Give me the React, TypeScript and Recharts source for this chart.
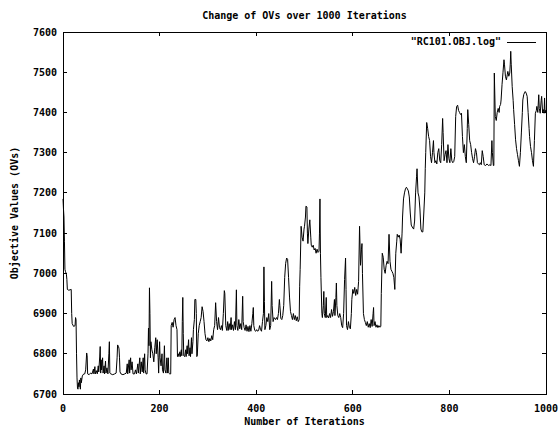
import { LineChart, Line, XAxis, YAxis, ReferenceArea } from "recharts";

const xTicks = [0, 200, 400, 600, 800, 1000];
const yTicks = [6700, 6800, 6900, 7000, 7100, 7200, 7300, 7400, 7500, 7600];

// [iteration, objective value], phase by phase
const descent = [
  [0, 7185], [1, 7160], [2, 7140], [3, 7080], [4, 7010], [5, 7005], [7, 6998], [8, 6985],
  [9, 6960], [12, 6958], [17, 6960], [18, 6900], [19, 6875], [22, 6868], [25, 6870], [26, 6890],
  [27, 6885], [28, 6800], [29, 6740], [30, 6715], [31, 6712], [32, 6728], [33, 6718], [34, 6735],
  [35, 6722], [36, 6712], [37, 6740], [38, 6728], [40, 6745], [43, 6750],
];

const plateau6750 = [
  [45, 6750], [47, 6760], [49, 6802], [50, 6795], [51, 6750], [54, 6748], [57, 6752], [60, 6750],
  [63, 6762], [64, 6750], [66, 6768], [67, 6750], [69, 6758], [71, 6750], [73, 6770], [74, 6755],
  [76, 6792], [77, 6818], [78, 6752], [79, 6785], [80, 6760], [82, 6790], [83, 6752], [85, 6770],
  [86, 6750], [88, 6782], [89, 6752], [91, 6765], [93, 6750], [95, 6800], [96, 6830], [97, 6752],
  [99, 6750], [103, 6748], [107, 6750], [110, 6752], [112, 6790], [113, 6822], [115, 6818],
  [116, 6812], [117, 6790], [118, 6755], [120, 6750], [124, 6748], [128, 6750], [131, 6752],
  [133, 6775], [134, 6750], [137, 6785], [138, 6752], [140, 6790], [141, 6760], [143, 6780],
  [145, 6750], [148, 6750], [150, 6760], [152, 6750], [155, 6775], [156, 6752], [159, 6790],
  [160, 6750], [162, 6780], [164, 6755], [166, 6790], [167, 6752], [169, 6800], [170, 6760],
  [172, 6750], [174, 6750], [176, 6800], [177, 6864], [178, 6820], [179, 6964], [180, 6900],
  [181, 6790], [182, 6830], [184, 6810], [186, 6800], [188, 6780], [190, 6815], [192, 6840],
  [193, 6800], [195, 6835], [197, 6790], [198, 6752], [200, 6830], [201, 6790], [203, 6770],
  [205, 6800], [206, 6760], [208, 6752], [210, 6820], [211, 6760], [213, 6752], [215, 6790],
  [216, 6752], [218, 6790], [219, 6752], [221, 6750], [223, 6750], [224, 6870], [226, 6878],
  [228, 6866], [230, 6885], [232, 6890], [234, 6870], [236, 6860],
];

const plateau6790 = [
  [237, 6793], [239, 6800], [240, 6793], [242, 6805], [243, 6793], [245, 6810], [246, 6795],
  [247, 6880], [248, 6940], [249, 6850], [250, 6795], [252, 6793], [254, 6810], [255, 6793],
  [257, 6820], [258, 6800], [260, 6835], [261, 6795], [263, 6815], [264, 6793], [266, 6840],
  [267, 6800], [269, 6830], [270, 6860], [272, 6885], [273, 6935], [275, 6935], [276, 6900],
  [277, 6793], [278, 6795], [280, 6850], [282, 6870], [284, 6880], [286, 6890], [288, 6917],
  [290, 6905], [292, 6880], [294, 6850],
];

const plateau6860 = [
  [296, 6835], [298, 6832], [300, 6840], [302, 6830], [304, 6838], [306, 6832], [308, 6845],
  [310, 6835], [312, 6860], [314, 6870], [316, 6927], [318, 6880], [320, 6860], [322, 6890],
  [324, 6865], [326, 6860], [328, 6870], [330, 6858], [332, 6900], [334, 6957], [335, 6950],
  [337, 6870], [339, 6858], [341, 6880], [342, 6858], [344, 6875], [346, 6860], [348, 6890],
  [349, 6860], [351, 6872], [353, 6858], [355, 6880], [357, 6860], [359, 6959], [360, 6870],
  [362, 6858], [364, 6885], [366, 6862], [368, 6875], [370, 6860], [372, 6943], [373, 6880],
  [375, 6865], [377, 6858], [379, 6872], [381, 6856], [383, 6868], [385, 6855], [387, 6870],
  [389, 6856], [391, 6875], [393, 6900], [394, 6915], [395, 6870], [397, 6858], [399, 6856],
  [401, 6860], [403, 6856], [405, 6858], [407, 6870], [409, 6860], [411, 6856], [413, 6880],
  [415, 6900], [416, 7016], [417, 6930], [418, 6860], [420, 6870], [422, 6890], [424, 6880],
  [426, 6900], [428, 6860], [430, 6870], [432, 6980], [433, 6920], [435, 6880], [437, 6890],
];

const plateau6890 = [
  [440, 6885], [442, 6890], [444, 6885], [446, 6900], [448, 6935], [449, 6920], [451, 6888],
  [453, 6885], [455, 6895], [457, 6920], [459, 6990], [461, 7025], [463, 7038], [465, 7035],
  [467, 6990], [469, 6941], [471, 6905], [473, 6895], [475, 6885], [477, 6900], [479, 6885],
  [481, 6895], [483, 6882], [485, 6892], [487, 6880], [489, 6885],
];

const peak7150 = [
  [490, 6968], [491, 7010], [493, 7117], [495, 7090], [497, 7080], [499, 7110], [500, 7117],
  [502, 7140], [503, 7167], [505, 7165], [506, 7100], [507, 7074], [509, 7110], [511, 7133],
  [513, 7090], [514, 7070], [516, 7065], [518, 7070], [520, 7058], [522, 7062], [524, 7050],
  [526, 7060], [528, 7052], [530, 7055], [531, 7100], [532, 7185], [533, 7050], [534, 6990],
  [536, 6900],
];

const plateau6880 = [
  [537, 6890], [539, 6920], [540, 6955], [541, 6900], [543, 6890], [545, 6940], [546, 6890],
  [548, 6895], [550, 6889], [552, 6900], [554, 6890], [556, 6910], [558, 6893], [560, 6905],
  [562, 6935], [563, 6895], [565, 6940], [566, 6976], [567, 6920], [569, 6895], [571, 6890],
  [573, 6900], [575, 6890], [577, 6870], [579, 6865], [581, 6900], [583, 6985], [585, 7038],
  [586, 6960], [587, 6870], [589, 6860], [591, 6880], [593, 6865], [595, 6862], [597, 6900],
  [598, 6935], [600, 6960], [602, 6950], [604, 6965], [606, 6945], [608, 6960], [610, 6948],
  [612, 6980], [614, 7117], [616, 7020], [618, 7060], [619, 7074], [620, 7000], [622, 6900],
  [624, 6885], [626, 6878], [628, 6870], [630, 6880], [632, 6866], [634, 6875], [636, 6865],
  [638, 6885], [640, 6868], [642, 6900], [643, 6915], [644, 6870], [646, 6880], [648, 6866],
  [650, 6872], [652, 6865], [654, 6870], [656, 6866], [658, 6868],
];

const climb = [
  [659, 6950], [661, 7050], [663, 7040], [665, 7010], [667, 7000], [669, 7020], [671, 7030],
  [673, 7024], [675, 7097], [677, 7030], [679, 7010], [681, 7005], [683, 7000], [685, 6990],
  [687, 6960], [689, 7050], [691, 7080], [692, 7097], [694, 7090], [696, 7095], [698, 7085],
  [700, 7050], [702, 7100], [703, 7140], [705, 7185], [707, 7200], [709, 7210], [711, 7214],
  [713, 7210], [715, 7205], [717, 7190], [719, 7150], [721, 7120], [723, 7115], [726, 7110],
  [728, 7130], [730, 7200], [732, 7240], [733, 7260], [735, 7200], [737, 7190], [739, 7160],
  [741, 7110], [743, 7103], [745, 7103], [747, 7150], [749, 7200], [750, 7260],
];

const plateau7270 = [
  [751, 7300], [753, 7375], [755, 7360], [757, 7340], [759, 7330], [761, 7290], [763, 7275],
  [765, 7300], [767, 7330], [768, 7300], [770, 7275], [772, 7280], [774, 7272], [776, 7300],
  [778, 7310], [780, 7280], [782, 7275], [784, 7320], [786, 7385], [787, 7350], [789, 7280],
  [791, 7295], [793, 7305], [795, 7275], [797, 7320], [799, 7285], [801, 7275], [803, 7310],
  [805, 7280], [807, 7275], [809, 7278], [811, 7290], [813, 7390], [815, 7415], [817, 7418],
  [819, 7405], [821, 7400], [823, 7395], [825, 7398], [827, 7340], [829, 7300], [831, 7320],
  [833, 7290], [835, 7275], [837, 7360], [838, 7407], [840, 7370], [842, 7330], [844, 7320],
  [846, 7300], [848, 7285], [850, 7275], [852, 7290], [854, 7310], [856, 7300], [858, 7275],
  [860, 7272], [862, 7270], [864, 7275], [866, 7270], [868, 7305], [870, 7290], [872, 7270],
  [875, 7268], [878, 7272], [881, 7268], [884, 7270], [886, 7268], [888, 7330], [889, 7300],
  [891, 7268],
];

const finale = [
  [892, 7268], [893, 7498], [895, 7390], [897, 7380], [899, 7400], [901, 7410], [903, 7400],
  [904, 7415], [906, 7420], [907, 7431], [909, 7470], [911, 7500], [913, 7531], [914, 7520],
  [916, 7490], [918, 7481], [920, 7495], [921, 7502], [923, 7490], [925, 7498], [926, 7520],
  [927, 7552], [928, 7520], [930, 7464], [932, 7430], [933, 7407], [935, 7370], [937, 7332],
  [939, 7310], [941, 7295], [943, 7280], [945, 7266], [947, 7300], [949, 7349], [951, 7400],
  [952, 7431], [954, 7445], [957, 7452], [959, 7448], [961, 7440], [963, 7400], [965, 7360],
  [966, 7340], [968, 7315], [970, 7300], [972, 7280], [974, 7266], [976, 7330], [978, 7398],
  [980, 7405], [981, 7415], [983, 7400], [985, 7444], [986, 7410], [988, 7398], [990, 7430],
  [991, 7440], [993, 7400], [995, 7407], [996, 7398], [997, 7436], [998, 7400], [999, 7405],
  [1000, 7398],
];

const data = [
  ...descent, ...plateau6750, ...plateau6790, ...plateau6860, ...plateau6890,
  ...peak7150, ...plateau6880, ...climb, ...plateau7270, ...finale,
].map(([iteration, ov]) => ({ iteration, ov }));

const W = 560;
const H = 428;
const PLOT = { left: 63, right: 546, top: 32, bottom: 394 };
const TICK = 4;
const FONT = '"DejaVu Sans Mono", monospace';

const textStyle = { fontFamily: FONT, fontSize: 10, fontWeight: "bold" as const, fill: "#000" };

// gnuplot style: ticks point inward and are mirrored on the opposite side
function XTick({ x, y, payload }: any) {
  return (
    <g>
      <line x1={x} x2={x} y1={PLOT.bottom} y2={PLOT.bottom - TICK} stroke="#000" shapeRendering="crispEdges" />
      <line x1={x} x2={x} y1={PLOT.top} y2={PLOT.top + TICK} stroke="#000" shapeRendering="crispEdges" />
      <text x={x} y={y} dy={7} textAnchor="middle" style={textStyle}>
        {payload.value}
      </text>
    </g>
  );
}

function YTick({ x, y, payload }: any) {
  return (
    <g>
      <line x1={PLOT.left} x2={PLOT.left + TICK} y1={y} y2={y} stroke="#000" shapeRendering="crispEdges" />
      <line x1={PLOT.right - TICK} x2={PLOT.right} y1={y} y2={y} stroke="#000" shapeRendering="crispEdges" />
      <text x={x} y={y} dy={3.5} textAnchor="end" style={textStyle}>
        {payload.value}
      </text>
    </g>
  );
}

const labelCss = {
  position: "absolute" as const,
  fontFamily: FONT,
  fontSize: 10,
  fontWeight: "bold" as const,
  lineHeight: "12px",
  color: "#000",
  whiteSpace: "nowrap" as const,
};

export default function App() {
  return (
    <div style={{ position: "absolute", left: 0, top: 0, width: W, height: H, background: "#fff" }}>
      <LineChart
        width={W}
        height={H}
        data={data}
        margin={{ top: PLOT.top, right: W - PLOT.right, bottom: 0, left: 0 }}
      >
        <XAxis
          dataKey="iteration"
          type="number"
          domain={[0, 1000]}
          ticks={xTicks}
          interval={0}
          height={H - PLOT.bottom}
          axisLine={false}
          tickLine={false}
          tickSize={0}
          tickMargin={11}
          tick={<XTick />}
        />
        <YAxis
          type="number"
          domain={[6700, 7600]}
          ticks={yTicks}
          interval={0}
          width={PLOT.left}
          axisLine={false}
          tickLine={false}
          tickSize={0}
          tickMargin={6}
          tick={<YTick />}
        />
        <Line
          type="linear"
          dataKey="ov"
          stroke="#000"
          strokeWidth={1}
          dot={false}
          isAnimationActive={false}
        />
        <ReferenceArea
          x1={0}
          x2={1000}
          y1={6700}
          y2={7600}
          fill="none"
          stroke="#000"
          strokeWidth={1}
          shapeRendering="crispEdges"
        />
      </LineChart>

      <div style={{ ...labelCss, left: PLOT.left, width: PLOT.right - PLOT.left, top: 10, textAlign: "center" }}>
        Change of OVs over 1000 Iterations
      </div>
      <div style={{ ...labelCss, left: PLOT.left, width: PLOT.right - PLOT.left, top: 416, textAlign: "center" }}>
        Number of Iterations
      </div>
      <div
        style={{
          ...labelCss,
          left: 15 - 100,
          top: 213 - 6,
          width: 200,
          textAlign: "center",
          transform: "rotate(-90deg)",
        }}
      >
        Objective Values (OVs)
      </div>
      <div
        style={{
          ...labelCss,
          left: 0,
          width: 536,
          top: 36,
          display: "flex",
          justifyContent: "flex-end",
          alignItems: "center",
        }}
      >
        <span>"RC101.OBJ.log"</span>
        <span style={{ display: "inline-block", width: 29, marginLeft: 6, borderTop: "1px solid #000" }} />
      </div>
    </div>
  );
}
